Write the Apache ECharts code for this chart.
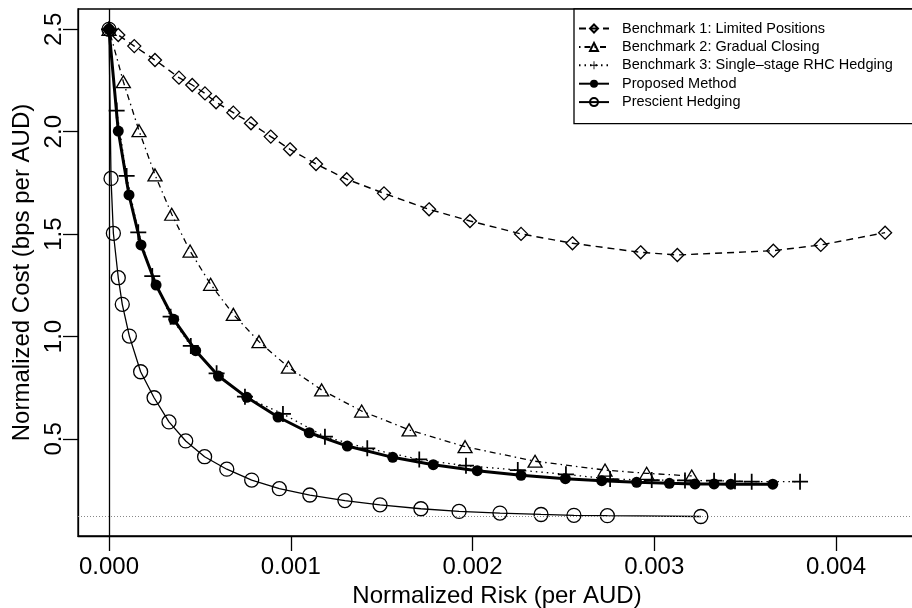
<!DOCTYPE html>
<html>
<head>
<meta charset="utf-8">
<title>Normalized cost vs. normalized risk</title>
<script src="https://cdn.jsdelivr.net/npm/echarts@6/dist/echarts.min.js"></script>
<style>
  html, body { margin: 0; padding: 0; background: #fff; }
  #chart { width: 912px; height: 608px; }
</style>
</head>
<body>
<div id="chart"></div>
<script>
// Risk (per AUD) and cost (bps per AUD) for each hedging strategy
const bench1Risk = [0, 0.000051, 0.000139, 0.000253, 0.000385, 0.000458, 0.000528, 0.000589, 0.000684, 0.000781, 0.000890, 0.000996, 0.001139, 0.001308, 0.001513, 0.001761, 0.001986, 0.002267, 0.002550, 0.002925, 0.003127, 0.003655, 0.003916, 0.004270];
const bench1Cost = [2.500, 2.472, 2.418, 2.350, 2.264, 2.228, 2.187, 2.144, 2.093, 2.041, 1.976, 1.914, 1.842, 1.768, 1.699, 1.621, 1.564, 1.501, 1.455, 1.411, 1.398, 1.419, 1.447, 1.507];

const bench2Risk = [0, 0.000079, 0.000165, 0.000253, 0.000345, 0.000446, 0.000559, 0.000684, 0.000825, 0.000987, 0.001170, 0.001390, 0.001651, 0.001959, 0.002344, 0.002729, 0.002958, 0.003206];
const bench2Cost = [2.500, 2.244, 2.005, 1.789, 1.597, 1.417, 1.255, 1.108, 0.975, 0.850, 0.739, 0.636, 0.544, 0.462, 0.391, 0.348, 0.332, 0.319];

const bench3Risk = [0, 0.000042, 0.000097, 0.000161, 0.000238, 0.000339, 0.000450, 0.000592, 0.000748, 0.000957, 0.001188, 0.001421, 0.001707, 0.001964, 0.002249, 0.002514, 0.002757, 0.002986, 0.003169, 0.003329, 0.003444, 0.003536, 0.003802];
const bench3Cost = [2.500, 2.103, 1.784, 1.509, 1.295, 1.097, 0.954, 0.820, 0.706, 0.622, 0.511, 0.454, 0.400, 0.369, 0.348, 0.327, 0.304, 0.299, 0.297, 0.296, 0.293, 0.291, 0.291];

const proposedRisk = [0, 0.000051, 0.000110, 0.000176, 0.000259, 0.000356, 0.000477, 0.000602, 0.000758, 0.000930, 0.001102, 0.001311, 0.001561, 0.001784, 0.002026, 0.002267, 0.002511, 0.002711, 0.002903, 0.003083, 0.003224, 0.003329, 0.003421, 0.003652];
const proposedCost = [2.500, 2.003, 1.691, 1.447, 1.251, 1.084, 0.931, 0.807, 0.703, 0.607, 0.530, 0.465, 0.410, 0.374, 0.345, 0.322, 0.306, 0.296, 0.288, 0.283, 0.280, 0.280, 0.279, 0.279];

const prescientRisk = [0, 0.000011, 0.000024, 0.000051, 0.000073, 0.000112, 0.000174, 0.000248, 0.000330, 0.000422, 0.000526, 0.000648, 0.000785, 0.000937, 0.001105, 0.001298, 0.001491, 0.001716, 0.001926, 0.002151, 0.002377, 0.002558, 0.002742, 0.003256];
const prescientCost = [2.500, 1.772, 1.504, 1.287, 1.157, 1.002, 0.828, 0.701, 0.583, 0.490, 0.413, 0.352, 0.299, 0.257, 0.226, 0.199, 0.178, 0.159, 0.146, 0.138, 0.131, 0.127, 0.125, 0.121];

const seriesNames = [
  'Benchmark 1: Limited Positions',
  'Benchmark 2: Gradual Closing',
  'Benchmark 3: Single\u2013stage RHC Hedging',
  'Proposed Method',
  'Prescient Hedging'
];

// Axis ticks and reference levels
const riskTicks = [0, 0.001, 0.002, 0.003, 0.004];
const costTicks = [0.5, 1.0, 1.5, 2.0, 2.5];
const riskRange = [-0.0001706, 0.00444];
const costRange = [0.0259, 2.5991];
const zeroRisk = 0;
const costFloor = 0.121;

const FONT = '"Liberation Sans", Arial, Helvetica, sans-serif';
const pairs = (xs, ys) => xs.map((x, i) => [x, ys[i]]);
const plusPath = 'path://M0,4.45H10V5.55H0ZM4.45,0H5.55V10H4.45Z';

const chart = echarts.init(document.getElementById('chart'), null, { renderer: 'canvas' });

const openStyle = { color: 'rgba(255,255,255,0)', borderColor: '#000', borderWidth: 1.3 };

chart.setOption({
  animation: false,
  backgroundColor: '#fff',
  textStyle: { fontFamily: FONT },
  grid: {
    left: 78, top: 9, width: 838, height: 527,
    show: true, borderColor: '#000', borderWidth: 1.3,
    containLabel: false, outerBoundsMode: 'none'
  },
  legend: {
    orient: 'vertical',
    left: 574, top: 9,
    padding: [12, 30, 14, 4],
    itemWidth: 30, itemHeight: 10, itemGap: 3.4,
    backgroundColor: '#fff',
    borderColor: '#000', borderWidth: 1.3, borderRadius: 0,
    textStyle: { fontFamily: FONT, fontSize: 14.5, color: '#000', padding: [0, 0, 0, 8] },
    data: seriesNames
  },
  xAxis: {
    type: 'value',
    min: riskRange[0], max: riskRange[1],
    name: 'Normalized Risk (per AUD)',
    nameLocation: 'middle', nameGap: 38,
    nameTextStyle: { fontFamily: FONT, fontSize: 24, color: '#000' },
    axisLine: { show: true, onZero: false, lineStyle: { color: '#000', width: 1.3 } },
    axisTick: { show: true, inside: false, length: 15, customValues: riskTicks, lineStyle: { color: '#000', width: 1.3 } },
    axisLabel: {
      customValues: riskTicks, margin: 19,
      fontFamily: FONT, fontSize: 24, color: '#000',
      formatter: v => v.toFixed(3)
    },
    splitLine: { show: false }
  },
  yAxis: {
    type: 'value',
    min: costRange[0], max: costRange[1],
    name: 'Normalized Cost (bps per AUD)',
    nameLocation: 'middle', nameGap: 39, nameRotate: 90,
    nameTextStyle: { fontFamily: FONT, fontSize: 24, color: '#000' },
    axisLine: { show: true, onZero: false, lineStyle: { color: '#000', width: 1.3 } },
    axisTick: { show: true, inside: false, length: 15, customValues: costTicks, lineStyle: { color: '#000', width: 1.3 } },
    axisLabel: {
      customValues: costTicks, margin: 12, rotate: 90,
      fontFamily: FONT, fontSize: 24, color: '#000',
      formatter: v => v.toFixed(1)
    },
    splitLine: { show: false }
  },
  series: [
    {
      name: seriesNames[0], type: 'line',
      data: pairs(bench1Risk, bench1Cost),
      symbol: 'diamond', symbolSize: 13, showAllSymbol: true,
      lineStyle: { color: '#000', width: 1.4, type: [7, 5] },
      itemStyle: openStyle,
      markLine: {
        silent: true, symbol: 'none', label: { show: false }, animation: false,
        data: [
          { xAxis: zeroRisk, lineStyle: { color: '#000', width: 1.3, type: 'solid' } },
          { yAxis: costFloor, lineStyle: { color: '#888', width: 1, type: [1, 2] } }
        ]
      }
    },
    {
      name: seriesNames[1], type: 'line',
      data: pairs(bench2Risk, bench2Cost),
      symbol: 'triangle', symbolSize: [14, 12], showAllSymbol: true,
      lineStyle: { color: '#000', width: 1.3, type: [1.5, 4, 6, 4] },
      itemStyle: openStyle
    },
    {
      name: seriesNames[2], type: 'line',
      data: pairs(bench3Risk, bench3Cost),
      symbol: plusPath, symbolSize: 16, showAllSymbol: true,
      lineStyle: { color: '#000', width: 1.3, type: [1.5, 4] },
      itemStyle: { color: '#000' }
    },
    {
      name: seriesNames[3], type: 'line',
      data: pairs(proposedRisk, proposedCost),
      symbol: 'circle', symbolSize: 11, showAllSymbol: true,
      lineStyle: { color: '#000', width: 3 },
      itemStyle: { color: '#000' }
    },
    {
      name: seriesNames[4], type: 'line',
      data: pairs(prescientRisk, prescientCost),
      symbol: 'circle', symbolSize: 14, showAllSymbol: true,
      lineStyle: { color: '#000', width: 1.3 },
      itemStyle: openStyle
    }
  ]
});
</script>
</body>
</html>
